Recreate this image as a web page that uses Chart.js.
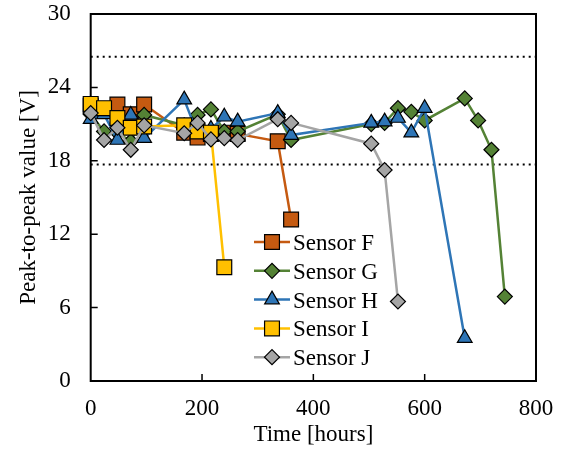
<!DOCTYPE html>
<html>
<head>
<meta charset="utf-8">
<script src="https://cdn.jsdelivr.net/npm/chart.js@4"></script>
<style>
  html, body { margin: 0; padding: 0; background: #fff; }
</style>
</head>
<body>
<canvas id="chart" width="565" height="459"></canvas>
<script>
// measurement times (hours), shared by every sensor
const hours = [0, 24, 48, 72, 96, 168, 192, 216, 240, 264, 336, 360, 504, 528, 552, 576, 600, 672, 696, 720, 744];

// peak-to-peak values [V]; each series stops when the sensor failed
const sensorF = [22.5, 22.2, 22.6, 21.8, 22.6, 20.3, 19.9, 20.2, 20.3, 20.2, 19.6, 13.2];
const sensorG = [21.8, 20.4, 20.3, 19.6, 21.75, 20.9, 21.75, 22.2, 20.4, 20.4, 21.8, 19.7, 21.0, 21.1, 22.3, 22.0, 21.3, 23.1, 21.3, 18.9, 6.9];
const sensorH = [21.4, 21.8, 19.7, 21.75, 19.85, 23.0, 20.2, 20.6, 21.6, 21.2, 21.9, 20.1, 21.1, 21.2, 21.5, 20.3, 22.3, 3.5];
const sensorI = [22.65, 22.3, 21.5, 20.7, 20.8, 20.9, 20.4, 20.3, 9.3];
const sensorJ = [21.9, 19.7, 20.7, 18.9, 20.9, 20.25, 21.1, 19.75, 19.85, 19.7, 21.4, 21.1, 19.4, 17.25, 6.5];

// dotted limit lines
const limitHours = [0, 800];
const upperLimit = [26.5, 26.5];
const lowerLimit = [17.7, 17.7];

const xTicks = [0, 200, 400, 600, 800];
const yTicks = [0, 6, 12, 18, 24, 30];

const FONT = "'Liberation Serif', 'Times New Roman', serif";

const sensors = [
  { label: "Sensor F", values: sensorF, color: "#C55A11", style: "rect", radius: 10.5 },
  { label: "Sensor G", values: sensorG, color: "#548235", style: "rectRot", radius: 7.5 },
  { label: "Sensor H", values: sensorH, color: "#2E75B6", style: "triangle", radius: 8.5 },
  { label: "Sensor I", values: sensorI, color: "#FFC000", style: "rect", radius: 10.5 },
  { label: "Sensor J", values: sensorJ, color: "#A5A5A5", style: "rectRot", radius: 7.5 },
];

const toPoints = (xs, ys) => ys.map((v, i) => ({ x: xs[i], y: v }));

const datasets = sensors.map((s, i) => ({
  label: s.label,
  data: toPoints(hours, s.values),
  borderColor: s.color,
  backgroundColor: s.color,
  borderWidth: 2.5,
  pointStyle: s.style,
  pointRadius: s.radius,
  pointHoverRadius: s.radius,
  pointBackgroundColor: s.color,
  pointBorderColor: "#000000",
  pointBorderWidth: 1.2,
  tension: 0,
  clip: false,
  order: sensors.length - i,
}));

[upperLimit, lowerLimit].forEach((lim, i) => {
  datasets.push({
    label: "limit" + i,
    data: toPoints(limitHours, lim),
    borderColor: "#000000",
    borderWidth: 2,
    borderDash: [2, 4],
    pointRadius: 0,
    order: 20,
  });
});

// box round the plot and ticks pointing inwards
const frame = {
  id: "frame",
  beforeDatasetsDraw(chart) {
    const { ctx, chartArea: a, scales } = chart;
    ctx.save();
    ctx.strokeStyle = "#000000";
    ctx.lineWidth = 1.5;
    ctx.beginPath();
    xTicks.slice(1, -1).forEach((v) => {
      const px = scales.x.getPixelForValue(v);
      ctx.moveTo(px, a.bottom);
      ctx.lineTo(px, a.bottom - 7);
    });
    yTicks.slice(1, -1).forEach((v) => {
      const py = scales.y.getPixelForValue(v);
      ctx.moveTo(a.left, py);
      ctx.lineTo(a.left + 7, py);
    });
    ctx.stroke();
    ctx.lineWidth = 2;
    ctx.strokeRect(a.left, a.top, a.right - a.left, a.bottom - a.top);
    ctx.restore();
  },
};

// legend with line + marker samples, inside the plot
const legendBox = {
  id: "legendBox",
  afterDraw(chart) {
    const ctx = chart.ctx;
    ctx.save();
    sensors.forEach((s, i) => {
      const y = 242 + i * 28.8;
      ctx.strokeStyle = s.color;
      ctx.lineWidth = 2.5;
      ctx.beginPath();
      ctx.moveTo(254, y);
      ctx.lineTo(290, y);
      ctx.stroke();
      ctx.fillStyle = s.color;
      ctx.strokeStyle = "#000000";
      ctx.lineWidth = 1.2;
      Chart.helpers.drawPoint(ctx, { pointStyle: s.style, radius: s.radius, rotation: 0, borderWidth: 1.2 }, 272, y);
      ctx.fillStyle = "#000000";
      ctx.font = "23px " + FONT;
      ctx.textBaseline = "alphabetic";
      ctx.fillText(s.label, 293, y + 8);
    });
    ctx.restore();
  },
};

new Chart(document.getElementById("chart"), {
  type: "line",
  data: { datasets: datasets },
  plugins: [frame, legendBox],
  options: {
    responsive: false,
    animation: false,
    events: [],
    layout: { padding: { left: 0, top: 14, right: 29, bottom: 0 } },
    plugins: {
      legend: { display: false },
      tooltip: { enabled: false },
    },
    scales: {
      x: {
        type: "linear",
        min: 0,
        max: 800,
        afterBuildTicks: (scale) => { scale.ticks = xTicks.map((v) => ({ value: v })); },
        afterFit: (scale) => { scale.height = 78; scale.paddingLeft = 0; scale.paddingRight = 0; },
        grid: { display: false, drawTicks: false },
        border: { display: false },
        ticks: { color: "#000000", padding: 14, maxRotation: 0, font: { family: FONT, size: 23 } },
        title: { display: true, text: "Time [hours]", color: "#000000", padding: { top: 0, bottom: 10 }, font: { family: FONT, size: 23 } },
      },
      y: {
        min: 0,
        max: 30,
        afterBuildTicks: (scale) => { scale.ticks = yTicks.map((v) => ({ value: v })); },
        afterFit: (scale) => { scale.width = 90.7; scale.paddingTop = 0; scale.paddingBottom = 0; },
        grid: { display: false, drawTicks: false },
        border: { display: false },
        ticks: { color: "#000000", padding: 20, font: { family: FONT, size: 23 } },
        title: { display: true, text: "Peak-to-peak value [V]", color: "#000000", padding: { top: 15, bottom: 0 }, font: { family: FONT, size: 23 } },
      },
    },
  },
});
</script>
</body>
</html>
